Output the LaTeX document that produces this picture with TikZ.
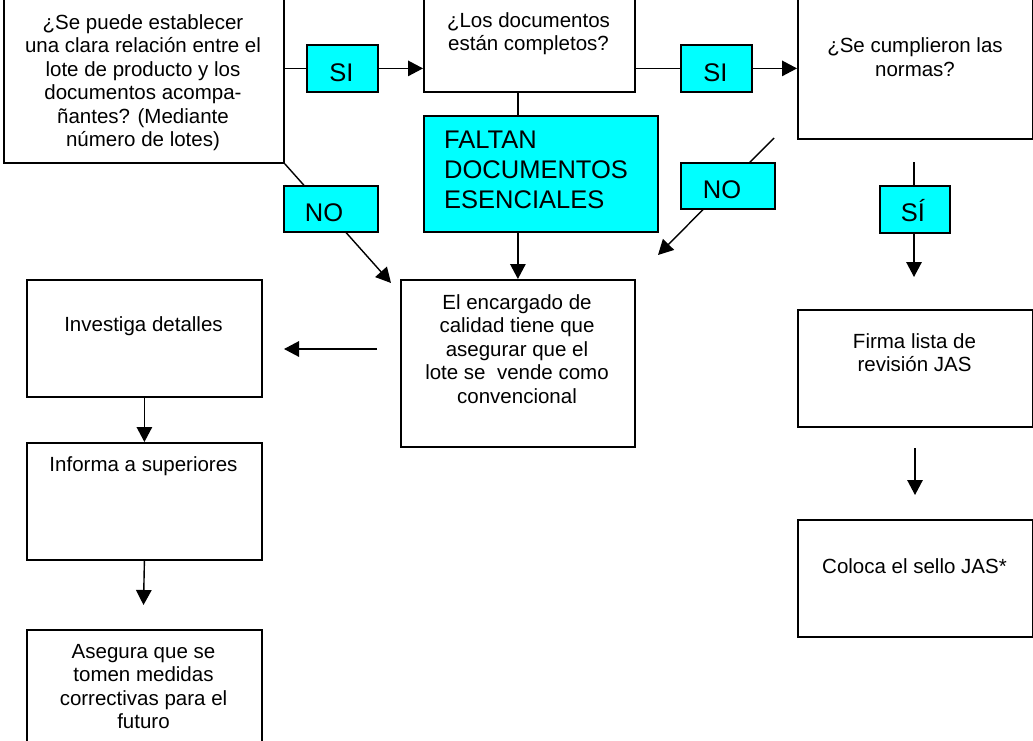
\documentclass[tikz,border=0pt]{standalone}
\usepackage{fontspec}
\setmainfont{Liberation Sans}
\usetikzlibrary{arrows.meta}
\definecolor{labcyan}{HTML}{00FFFF}
\newcommand{\ctext}[1]{\begin{tabular}[t]{@{}c@{}}#1\end{tabular}}
\newcommand{\ltext}[1]{\begin{tabular}[t]{@{}l@{}}#1\end{tabular}}
\begin{document}
\begin{tikzpicture}[x=1pt,y=-1pt,
  box/.style={draw=black, line width=1.8pt, fill=white, inner sep=0pt, anchor=north west},
  lab/.style={draw=black, line width=1.8pt, fill=labcyan, inner sep=0pt, anchor=north west},
  txt/.style={inner sep=0pt, anchor=base, font=\fontsize{20.5}{23.5}\selectfont},
  labtxt/.style={inner sep=0pt, anchor=base, font=\fontsize{25.5}{30}\selectfont},
  conn/.style={line width=1.4pt},
  arr/.style={conn, -{Triangle[length=15pt,width=15.5pt]}},
]
\useasboundingbox (0,0) rectangle (1033,741);
\clip (0,0) rectangle (1033,741);

% boxes
\node[box, minimum width=280pt, minimum height=167pt] (b1) at (3,-5) {};
\node[box, minimum width=211pt, minimum height=96pt] (b2) at (423,-5) {};
\node[box, minimum width=235pt, minimum height=143pt] (b3) at (797,-5) {};
\node[lab, minimum width=234pt, minimum height=116pt] (faltan) at (423,115) {};
\node[box, minimum width=234pt, minimum height=167pt] (b4) at (400,279) {};
\node[box, minimum width=235pt, minimum height=117pt] (b5) at (26,279) {};
\node[box, minimum width=235pt, minimum height=117pt] (b6) at (26,442) {};
\node[box, minimum width=235pt, minimum height=140pt] (b7) at (26,629) {};
\node[box, minimum width=235pt, minimum height=117pt] (b8) at (797,309) {};
\node[box, minimum width=235pt, minimum height=117pt] (b9) at (797,519) {};

% texts
\node[txt] (t1) at (143,29.3) {\ctext{¿Se puede establecer\\una clara relación entre el\\lote de producto y los\\documentos acompa-\\ñantes? (Mediante\\número de lotes)}};
\node[txt] (t2) at (528.5,27.5) {\ctext{¿Los documentos\\están completos?}};
\node[txt] (t3) at (915,53) {\ctext{¿Se cumplieron las\\normas?}};
\node[labtxt, anchor=base west] (tf) at (444,148.3) {\ltext{FALTAN\\DOCUMENTOS\\ESENCIALES}};
\node[txt] (t4) at (517,309.3) {\ctext{El encargado de\\calidad tiene que\\asegurar que el\\lote se~ vende como\\convencional}};
\node[txt] (t5) at (143.5,331.7) {Investiga detalles};
\node[txt] (t6) at (143.5,471.7) {Informa a superiores};
\node[txt] (t7) at (143.5,658.3) {\ctext{Asegura que se\\tomen medidas\\correctivas para el\\futuro}};
\node[txt] (t8) at (914.5,348.3) {\ctext{Firma lista de\\revisión JAS}};
\node[txt] (t9) at (914.5,573) {Coloca el sello JAS*};

% free ends
\coordinate (tipA) at (391,283);
\coordinate (n2s) at (774,138);
\coordinate (n2e) at (658,255);
\coordinate (s3s) at (914,162);
\coordinate (s3e) at (914,277);
\coordinate (la1) at (377,349);
\coordinate (la2) at (284,349);
\coordinate (d1) at (143.5,605);
\coordinate (f1) at (915,448);
\coordinate (f2) at (915,495);

% connectors drawn under the labels
\draw[arr] (b1.south east) -- (tipA);
\draw[arr] (n2s) -- (n2e);
\draw[arr] (s3s) -- (s3e);

% labels
\node[lab, minimum width=71pt, minimum height=47pt] (si1) at (306,44) {};
\node[lab, minimum width=71pt, minimum height=47pt] (si2) at (680,44) {};
\node[lab, minimum width=94pt, minimum height=46pt] (no1) at (283,185) {};
\node[lab, minimum width=94pt, minimum height=46pt] (no2) at (680,162) {};
\node[lab, minimum width=70pt, minimum height=47pt] (si3) at (879,185) {};
\node[labtxt] (tsi1) at (341.5,81.7) {SI};
\node[labtxt] (tsi2) at (715.5,81.7) {SI};
\node[labtxt] (tno1) at (324,221.7) {NO};
\node[labtxt] (tno2) at (722,198.3) {NO};
\node[labtxt] (tsi3) at (913,221.7) {SÍ};

% other connectors
\draw[conn] (si1.west -| b1.east) -- (si1.west);
\draw[arr] (si1.east) -- (si1.east -| b2.west);
\draw[conn] (si2.west -| b2.east) -- (si2.west);
\draw[arr] (si2.east) -- (si2.east -| b3.west);
\draw[conn] (b2.south -| b4.north) -- (faltan.north -| b4.north);
\draw[arr] (faltan.south -| b4.north) -- (b4.north);
\draw[arr] (la1) -- (la2);
\draw[arr] (b5.south) -- (b6.north);
\draw[arr] (b6.south) -- (d1);
\draw[arr] (f1) -- (f2);
\end{tikzpicture}
\end{document}
